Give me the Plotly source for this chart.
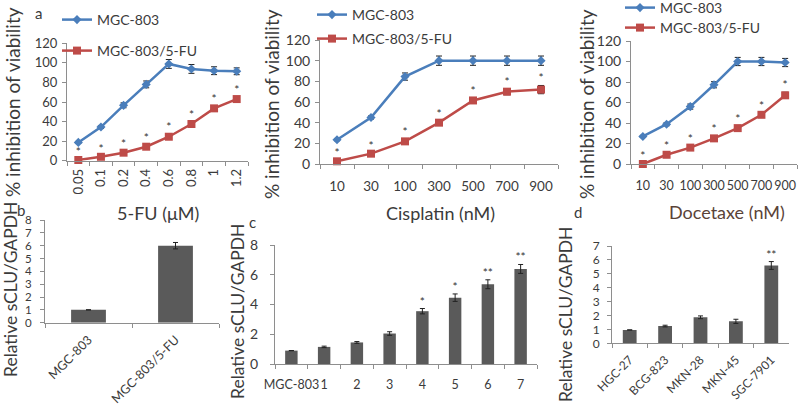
import plotly.graph_objects as go

FONT = "Lato, Carlito, Calibri, Arial, sans-serif"
TXT = "#3b3b3b"
BLUE = "#4a7ebb"
RED = "#be4b48"
BAR = "#5a5a5a"
AX = "#8e8e8e"
ERR = "#222222"

# ---------------- data ----------------
series_names = ["MGC-803", "MGC-803/5-FU"]

fu_doses = ["0.05", "0.1", "0.2", "0.4", "0.6", "0.8", "1", "1.2"]
fu_parent = [18.7, 34.4, 56.6, 78.0, 98.9, 93.8, 92.0, 91.4]
fu_parent_err = [1, 1.5, 2.5, 3.5, 4.5, 4.5, 4, 3.5]
fu_resist = [0.7, 4.0, 8.2, 14.3, 24.5, 37.5, 53.5, 63.0]
fu_resist_err = [1, 1, 1.5, 2, 2.5, 2.5, 2.5, 2.5]
fu_stars = ["*"] * 8

cis_doses = ["10", "30", "100", "300", "500", "700", "900"]
cis_parent = [23.5, 45.0, 84.6, 100.0, 100.0, 100.0, 100.0]
cis_parent_err = [1, 1.5, 3.5, 4.5, 4.5, 4.5, 4.5]
cis_resist = [2.6, 10.0, 21.9, 40.0, 61.5, 70.0, 72.0]
cis_resist_err = [1, 1, 2, 2, 2.5, 3, 4]
cis_stars = ["*"] * 7

doc_doses = ["10", "30", "100", "300", "500", "700", "900"]
doc_parent = [26.9, 38.8, 56.0, 77.3, 100.0, 100.0, 99.0]
doc_parent_err = [1, 1.5, 2.5, 3, 4, 4, 4]
doc_resist = [0.0, 9.0, 16.0, 25.0, 35.0, 48.0, 67.0]
doc_resist_err = [1, 1.5, 2, 2, 2, 2, 3]
doc_stars = ["*"] * 7

b_cats = ["MGC-803", "MGC-803/5-FU"]
b_vals = [1.0, 6.0]
b_err = [None, 0.25]

c_cats = ["MGC-803", "1", "2", "3", "4", "5", "6", "7"]
c_vals = [0.9, 1.15, 1.45, 2.05, 3.55, 4.46, 5.36, 6.39]
c_err = [None, 0.05, 0.06, 0.12, 0.18, 0.25, 0.3, 0.3]
c_stars = ["", "", "", "", "*", "*", "**", "**"]

d_cats = ["HGC-27", "BCG-823", "MKN-28", "MKN-45", "SGC-7901"]
d_vals = [0.96, 1.24, 1.87, 1.58, 5.6]
d_err = [None, 0.06, 0.1, 0.15, 0.28]
d_stars = ["", "", "", "", "**"]

# ---------------- figure ----------------
fig = go.Figure()


def line_panel(n, cats, parent, perr, resist, rerr, stars, legs):
    xa = "x" if n == 1 else f"x{n}"
    ya = "y" if n == 1 else f"y{n}"
    fig.add_trace(go.Scatter(
        x=cats, y=parent, name=series_names[0], mode="lines+markers",
        line=dict(color=BLUE, width=2.5),
        marker=dict(symbol="diamond", size=7, color=BLUE),
        error_y=dict(type="data", array=perr, color=ERR, thickness=1, width=3),
        xaxis=xa, yaxis=ya, legend=legs[0], cliponaxis=False))
    fig.add_trace(go.Scatter(
        x=cats, y=resist, name=series_names[1], mode="lines+markers",
        line=dict(color=RED, width=2.5),
        marker=dict(symbol="square", size=8, color=RED),
        error_y=dict(type="data", array=rerr, color=ERR, thickness=1, width=3),
        xaxis=xa, yaxis=ya, legend=legs[1], cliponaxis=False))
    fig.add_trace(go.Scatter(
        x=cats, y=[v + e for v, e in zip(resist, rerr)], text=stars,
        mode="text", textposition="top center",
        textfont=dict(size=12, color="#333", family=FONT),
        showlegend=False, xaxis=xa, yaxis=ya, cliponaxis=False, hoverinfo="skip"))


def bar_panel(n, cats, vals, err, stars, width):
    xa = f"x{n}"
    ya = f"y{n}"
    fig.add_trace(go.Bar(
        x=cats, y=vals, marker=dict(color=BAR, line=dict(width=0)), width=width,
        error_y=dict(type="data", array=err, color=ERR, thickness=1, width=2.5),
        showlegend=False, xaxis=xa, yaxis=ya))
    if stars is not None:
        fig.add_trace(go.Scatter(
            x=cats, y=[v + (e or 0) for v, e in zip(vals, err)], text=stars,
            mode="text", textposition="top center",
            textfont=dict(size=12, color="#333", family=FONT),
            showlegend=False, xaxis=xa, yaxis=ya, cliponaxis=False, hoverinfo="skip"))


line_panel(1, fu_doses, fu_parent, fu_parent_err, fu_resist, fu_resist_err, fu_stars, ["legend", "legend2"])
line_panel(2, cis_doses, cis_parent, cis_parent_err, cis_resist, cis_resist_err, cis_stars, ["legend3", "legend4"])
line_panel(3, doc_doses, doc_parent, doc_parent_err, doc_resist, doc_resist_err, doc_stars, ["legend5", "legend6"])
bar_panel(4, b_cats, b_vals, b_err, None, 0.4)
bar_panel(5, c_cats, c_vals, c_err, c_stars, 0.38)
bar_panel(6, d_cats, d_vals, d_err, d_stars, 0.39)


def px_x(a, b):
    return [a / 800, b / 800]


def px_y(bottom, top):
    return [1 - bottom / 413, 1 - top / 413]


def xaxis(dom, n, size, angle=0, standoff=2):
    return dict(domain=dom, type="category", range=[-0.5, n - 0.5],
                showline=True, linecolor=AX, linewidth=1, ticks="outside",
                tickson="boundaries", ticklen=4, tickcolor=AX, showgrid=False,
                zeroline=False, tickangle=angle, ticklabelstandoff=standoff,
                automargin=False,
                tickfont=dict(size=size, color=TXT, family=FONT), fixedrange=True)


def yaxis(dom, rng, dtick, size, standoff=2):
    return dict(domain=dom, range=rng, dtick=dtick, showline=True, linecolor=AX,
                linewidth=1, ticks="outside", ticklen=4, tickcolor=AX,
                showgrid=False, zeroline=False, ticklabelstandoff=standoff,
                automargin=False,
                tickfont=dict(size=size, color=TXT, family=FONT), fixedrange=True)


layout = dict(
    width=800, height=413, margin=dict(l=0, r=0, t=0, b=0, autoexpand=False),
    paper_bgcolor="white", plot_bgcolor="white",
    font=dict(family=FONT, color=TXT),
)

axes = {
    1: (px_x(67, 248), px_y(160.7, 43.3), 8, 13, -90, 2, [0, 120], 20, 13, 2),
    2: (px_x(320, 558), px_y(164, 40), 7, 13.5, 0, 10, [0, 120], 20, 14, 2),
    3: (px_x(631, 797), px_y(164, 41), 7, 12.5, 0, 10, [0, 120], 20, 14, 2),
    4: (px_x(45, 219), px_y(322.7, 220), 2, 12.5, -45, 4, [0, 8], 1, 11.5, 6),
    5: (px_x(275, 537), px_y(364, 245), 8, 12.5, 0, 9, [0, 8], 2, 14, 9),
    6: (px_x(612, 789), px_y(343.3, 246), 5, 12, -45, 4, [0, 7], 1, 12, 5),
}
for n, (xd, yd, nc, xs, ang, xso, yr, dt, ys, yso) in axes.items():
    xk = "xaxis" if n == 1 else f"xaxis{n}"
    yk = "yaxis" if n == 1 else f"yaxis{n}"
    xa = xaxis(xd, nc, xs, ang, xso)
    xa["anchor"] = "y" if n == 1 else f"y{n}"
    ya = yaxis(yd, yr, dt, ys, yso)
    ya["anchor"] = "x" if n == 1 else f"x{n}"
    layout[xk] = xa
    layout[yk] = ya

# legends (one entry each, positioned like the original)
leg_pos = {
    "legend": (57, 20), "legend2": (57, 51),
    "legend3": (312, 15), "legend4": (312, 39),
    "legend5": (620, 8), "legend6": (620, 28),
}
for k, (lx, ly) in leg_pos.items():
    layout[k] = dict(x=lx / 800, y=1 - ly / 413, xanchor="left", yanchor="middle",
                     bgcolor="rgba(0,0,0,0)", borderwidth=0, itemwidth=30,
                     font=dict(size=14, color=TXT, family=FONT))

ann = []


def text(x, y, s, size, angle=0, color=TXT):
    ann.append(dict(x=x / 800, y=1 - y / 413, xref="paper", yref="paper", text=s,
                    showarrow=False, textangle=angle, xanchor="center", yanchor="middle",
                    font=dict(size=size, color=color, family=FONT)))


text(38, 13, "a", 15)
text(21, 210, "b", 15)
text(252, 222, "c", 15)
text(578, 212, "d", 15)

text(12, 102, "% inhibition of viability", 19, -90)
text(272, 104, "% inhibition of viability", 19, -90)
text(587, 104, "% inhibition of viability", 19, -90)

text(158, 213, "5-FU (μM)", 18)
text(440, 213, "Cisplatin (nM)", 18)
text(727, 212, "Docetaxe (nM)", 18, 0, "#5a4338")

text(10, 290, "Relative sCLU/GAPDH", 17.5, -90)
text(237, 312, "Relative sCLU/GAPDH", 17.5, -90)
text(565, 315, "Relative sCLU/GAPDH", 17.5, -90)

layout["annotations"] = ann
fig.update_layout(**layout)
fig.write_html(
    "out.html",
    config={"displayModeBar": False},
    post_script="document.body.style.margin='0';document.body.style.padding='0';",
)
